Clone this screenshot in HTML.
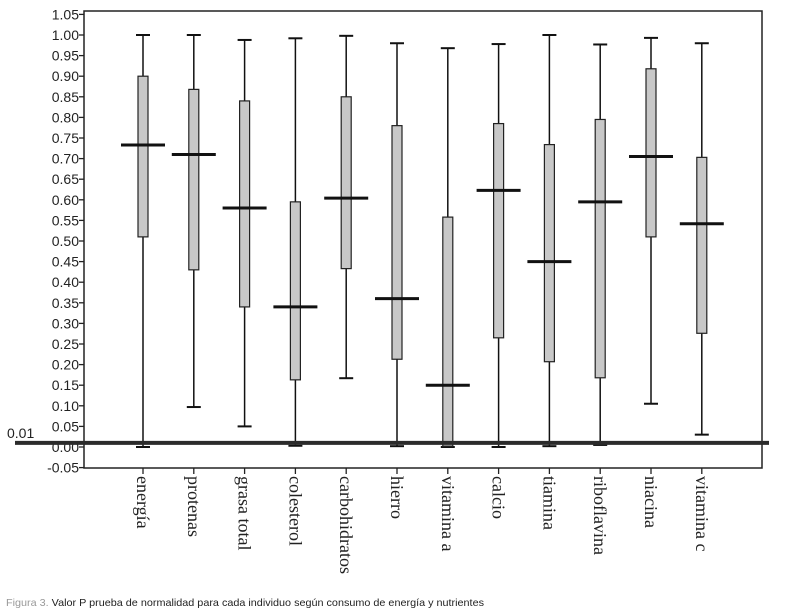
<!DOCTYPE html>
<html><head><meta charset="utf-8"><style>
body{margin:0;background:#fff;width:789px;height:612px;overflow:hidden}
svg{display:block}
</style></head><body>
<svg width="789" height="612" id="chart">
<text x="7" y="438" font-family="Liberation Sans, sans-serif" font-size="14" fill="#222">0.01</text>
<text x="6" y="606" font-family="Liberation Sans, sans-serif" font-size="10.5" fill="#222" textLength="478" lengthAdjust="spacingAndGlyphs"><tspan fill="#999">Figura 3.</tspan> Valor P prueba de normalidad para cada individuo según consumo de energía y nutrientes</text>
</svg>
<script>
const categories=["energía","protenas","grasa total","colesterol","carbohidratos","hierro","vitamina a","calcio","tiamina","riboflavina","niacina","vitamina c"];
const mins=[0.00,0.097,0.05,0.003,0.167,0.002,0.00,0.00,0.002,0.005,0.105,0.03];
const q1s=[0.51,0.43,0.34,0.163,0.433,0.213,0.002,0.265,0.207,0.168,0.51,0.276];
const medians=[0.733,0.71,0.58,0.34,0.604,0.36,0.15,0.623,0.45,0.595,0.705,0.542];
const q3s=[0.90,0.868,0.84,0.595,0.85,0.78,0.558,0.785,0.734,0.795,0.918,0.703];
const maxs=[1.00,1.00,0.988,0.992,0.998,0.98,0.968,0.978,1.00,0.977,0.993,0.98];
const yTicks=[-0.05,0,0.05,0.1,0.15,0.2,0.25,0.3,0.35,0.4,0.45,0.5,0.55,0.6,0.65,0.7,0.75,0.8,0.85,0.9,0.95,1.0,1.05];
const threshold=0.01;
const NS="http://www.w3.org/2000/svg";
const svg=document.getElementById('chart');
const L=84,R=762,T=11,B=468;
const y=v=>447-v*412;
const x=i=>143+i*50.8;
function mk(tag,attrs){const e=document.createElementNS(NS,tag);for(const k in attrs)e.setAttribute(k,attrs[k]);svg.appendChild(e);return e;}
let frame=mk('rect',{x:L,y:T,width:R-L,height:B-T,fill:'none',stroke:'#222','stroke-width':1.5});


yTicks.forEach(v=>{
 const t=mk('line',{x1:L-5,x2:L,y1:y(v),y2:y(v),stroke:'#222','stroke-width':1.3});
 
 
 const lb=mk('text',{x:L-5,y:y(v)+5,'text-anchor':'end','font-family':'Liberation Sans, sans-serif','font-size':14,fill:'#222'});
 lb.textContent=v.toFixed(2);
 
 
});
categories.forEach((c,i)=>{
 const cx=x(i);
 const g=document.createElementNS(NS,'g');svg.appendChild(g);
 
 
 const add=(tag,a)=>{const e=document.createElementNS(NS,tag);for(const k in a)e.setAttribute(k,a[k]);g.appendChild(e);return e;};
 add('line',{x1:cx,x2:cx,y1:y(maxs[i]),y2:y(mins[i]),stroke:'#111','stroke-width':1.5});
 add('line',{x1:cx-7,x2:cx+7,y1:y(maxs[i]),y2:y(maxs[i]),stroke:'#111','stroke-width':2});
 add('line',{x1:cx-7,x2:cx+7,y1:y(mins[i]),y2:y(mins[i]),stroke:'#111','stroke-width':2});
 add('rect',{x:cx-5,y:y(q3s[i]),width:10,height:y(q1s[i])-y(q3s[i]),fill:'#c8c8c8',stroke:'#222','stroke-width':1.2});
 add('line',{x1:cx-22,x2:cx+22,y1:y(medians[i]),y2:y(medians[i]),stroke:'#111','stroke-width':3});
 add('line',{x1:cx,x2:cx,y1:B,y2:B+6,stroke:'#222','stroke-width':1.3});
 const t=add('text',{x:0,y:0,transform:`translate(${cx-6},${B+8}) rotate(90)`,'font-family':'Liberation Serif, serif','font-size':18,fill:'#222'});
 t.textContent=c;
 
});
const th=mk('line',{x1:15,x2:769,y1:y(threshold),y2:y(threshold),stroke:'#2b2b2b','stroke-width':4});


</script>
</body></html>
